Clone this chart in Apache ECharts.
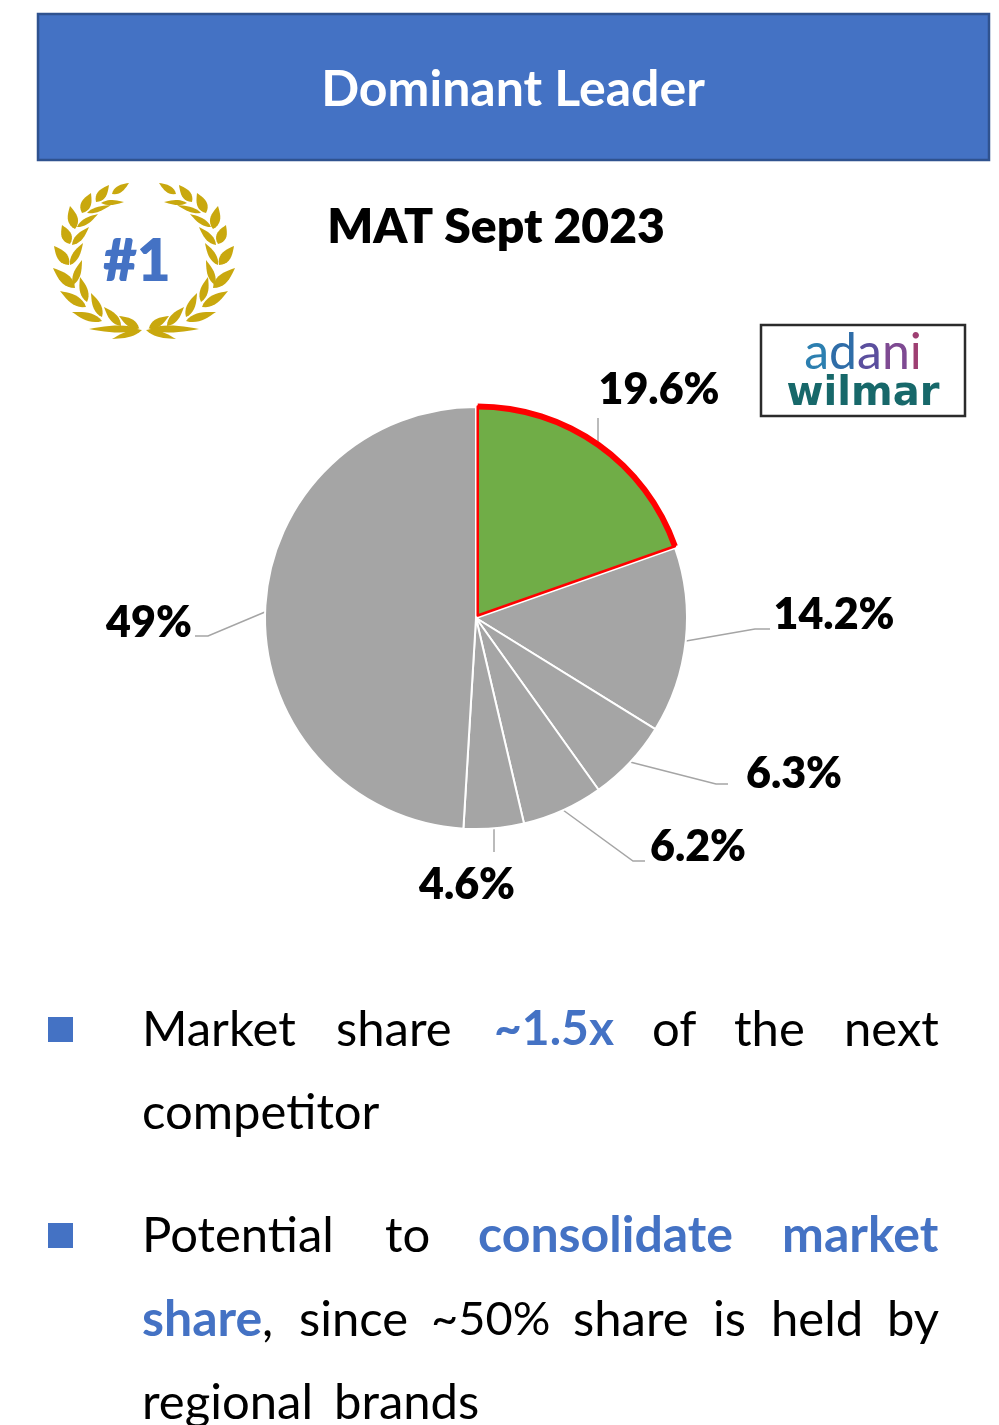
<!DOCTYPE html>
<html>
<head>
<meta charset="utf-8">
<title>Dominant Leader</title>
<style>
  html, body { margin: 0; padding: 0; background: #fff; }
  #chart { width: 999px; height: 1425px; }
</style>
<script src="https://cdn.jsdelivr.net/npm/echarts@6/dist/echarts.min.js"></script>
</head>
<body>
<div id="chart"></div>
<script>
const shareLabels = ['19.6%', '14.2%', '6.3%', '6.2%', '4.6%', '49%']
const shareValues = [19.6, 14.2, 6.3, 6.2, 4.6, 49]

const headerTitle = 'Dominant Leader'
const periodTitle = 'MAT Sept 2023'
const rankText = '#1'

const FONT = 'Lato, "Open Sans", sans-serif'
const BLUE = '#4472C4'
const GREY = '#A5A5A5'

// label centre and leader line for each slice, same order as the values
const labelSpots = [
  { x: 659, y: 390, line: [[598, 447], [598, 432], [598, 418]] },
  { x: 834, y: 615, line: [[686, 641], [755, 629], [770, 629]] },
  { x: 794, y: 774, line: [[630, 762], [716, 784], [728, 784]] },
  { x: 698, y: 847, line: [[563, 810], [633, 861], [645, 861]] },
  { x: 467, y: 885, line: [[494, 829], [494, 840], [494, 852]] },
  { x: 149, y: 623, line: [[265, 612], [208, 636], [195, 636]] }
]

// justified lines, one word at a time
const bulletWords = [
  { t: 'Market', x: 142, y: 1030 },
  { t: 'share', x: 336, y: 1030 },
  { t: '~1.5x', x: 494, y: 1030, hi: true, size: 48 },
  { t: 'of', x: 652, y: 1030 },
  { t: 'the', x: 734, y: 1030 },
  { t: 'next', x: 844, y: 1030 },
  { t: 'competitor', x: 142, y: 1113 },
  { t: 'Potential', x: 142, y: 1236 },
  { t: 'to', x: 385, y: 1236 },
  { t: 'consolidate', x: 478, y: 1236, hi: true },
  { t: 'market', x: 782, y: 1236, hi: true },
  { t: 'share', x: 142, y: 1320, hi: true },
  { t: ',', x: 262, y: 1320 },
  { t: 'since', x: 299, y: 1320 },
  { t: '~50%', x: 431, y: 1320, size: 47 },
  { t: 'share', x: 573, y: 1320 },
  { t: 'is', x: 713, y: 1320 },
  { t: 'held', x: 771, y: 1320 },
  { t: 'by', x: 887, y: 1320 },
  { t: 'regional', x: 142, y: 1403 },
  { t: 'brands', x: 334, y: 1403 }
]

// laurel leaves of the left branch: base x, base y, tip x, tip y, half width
const laurelLeaves = [
  [142, 330, 112, 339, 3], [140, 329, 89, 329, 3.5], [139, 328, 119, 316, 4],
  [121, 326, 104, 307, 4], [102, 321, 72, 312, 4], [102, 317, 91, 293, 4],
  [86, 307, 60, 291, 4.5], [87, 302, 80, 277, 4], [75, 288, 53, 268, 5],
  [73, 285, 82, 260, 3.5], [69, 265, 54, 246, 5], [70, 265, 83, 243, 3.5],
  [70, 244, 62, 225, 5], [72, 245, 89, 227, 3.5], [75, 229, 70, 206, 5],
  [77, 227, 98, 214, 3], [82, 213, 91, 193, 5], [87, 213, 111, 205, 2.5],
  [96, 202, 109, 185, 4.5], [101, 203, 124, 202, 2.5], [112, 194, 129, 183, 3.5]
]
const LAUREL_AXIS = 144

function leafPoints(x0, y0, x1, y1, w) {
  // pointed leaf outline, bulging on either side of the rib
  const dx = x1 - x0
  const dy = y1 - y0
  const len = Math.sqrt(dx * dx + dy * dy)
  const nx = -dy / len
  const ny = dx / len
  const pts = []
  for (let i = 0; i <= 10; i++) {
    const t = i / 10
    const b = w * Math.sin(Math.PI * Math.pow(t, 0.8))
    pts.push([x0 + dx * t + nx * b, y0 + dy * t + ny * b])
  }
  for (let i = 9; i > 0; i--) {
    const t = i / 10
    const b = w * Math.sin(Math.PI * Math.pow(t, 0.8))
    pts.push([x0 + dx * t - nx * b, y0 + dy * t - ny * b])
  }
  return pts
}

const graphics = [
  {
    type: 'rect',
    shape: { x: 38, y: 14, width: 951, height: 146 },
    style: { fill: BLUE, stroke: '#2F528F', lineWidth: 2.5 }
  },
  {
    type: 'text', x: 513, y: 90,
    style: { text: headerTitle, fill: '#fff', font: 'bold 50px ' + FONT, align: 'center', verticalAlign: 'middle' }
  },
  {
    type: 'text', x: 496, y: 228,
    style: { text: periodTitle, fill: '#000', font: '800 48px ' + FONT, align: 'center', verticalAlign: 'middle' }
  },
  {
    type: 'text', x: 137, y: 262,
    style: { text: rankText, fill: BLUE, font: '800 58px ' + FONT, align: 'center', verticalAlign: 'middle' }
  },
  {
    type: 'rect',
    shape: { x: 761, y: 325, width: 204, height: 91 },
    style: { fill: '#fff', stroke: '#2b2b2b', lineWidth: 2.5 }
  },
  {
    type: 'text', x: 863, y: 353,
    style: {
      text: '{a|a}{b|d}{c|a}{d|n}{e|i}',
      font: '50px ' + FONT,
      align: 'center', verticalAlign: 'middle',
      rich: {
        a: { fill: '#2C7FB0', font: '50px ' + FONT },
        b: { fill: '#2F6DA8', font: '50px ' + FONT },
        c: { fill: '#5B4F9E', font: '50px ' + FONT },
        d: { fill: '#7E4A92', font: '50px ' + FONT },
        e: { fill: '#9E3F72', font: '50px ' + FONT }
      }
    }
  },
  {
    type: 'text', x: 863, y: 395,
    style: { text: 'wilmar', fill: '#17686A', font: 'bold 40px "DejaVu Sans", sans-serif', align: 'center', verticalAlign: 'middle' }
  },
  {
    type: 'rect',
    shape: { x: 48, y: 1017, width: 25, height: 25 },
    style: { fill: BLUE }
  },
  {
    type: 'rect',
    shape: { x: 48, y: 1223, width: 25, height: 25 },
    style: { fill: BLUE }
  }
]

laurelLeaves.forEach(l => {
  graphics.push({
    type: 'polygon',
    shape: { points: leafPoints(l[0], l[1], l[2], l[3], l[4]) },
    style: { fill: '#C9A80E' }
  })
  graphics.push({
    type: 'polygon',
    shape: { points: leafPoints(2 * LAUREL_AXIS - l[0], l[1], 2 * LAUREL_AXIS - l[2], l[3], l[4]) },
    style: { fill: '#C9A80E' }
  })
})

bulletWords.forEach(w => {
  graphics.push({
    type: 'text', x: w.x, y: w.y,
    style: {
      text: w.t,
      fill: w.hi ? BLUE : '#000',
      font: (w.hi ? 'bold ' : '') + (w.size || (w.hi ? 50 : 49)) + 'px ' + FONT,
      align: 'left', verticalAlign: 'middle'
    }
  })
})

const chart = echarts.init(document.getElementById('chart'))
const option = {
  animation: false,
  backgroundColor: '#fff',
  graphic: { elements: graphics },
  series: [
    {
      // grey slices, labels and leader lines; the leading slice is drawn by the next series
      type: 'pie',
      center: [476, 618],
      radius: [0, 211],
      startAngle: 90,
      data: shareValues.map((v, i) => ({
        name: shareLabels[i],
        value: v,
        itemStyle: i === 0
          ? { color: 'transparent', borderWidth: 0 }
          : { color: GREY, borderColor: '#fff', borderWidth: 2 }
      })),
      label: {
        show: true,
        formatter: '{b}',
        color: '#000',
        fontFamily: FONT,
        fontWeight: 800,
        fontSize: 43
      },
      labelLine: {
        show: true,
        lineStyle: { color: GREY, width: 1.5 }
      },
      labelLayout: params => {
        const spot = labelSpots[params.dataIndex]
        return { x: spot.x, y: spot.y, align: 'center', verticalAlign: 'middle', labelLinePoints: spot.line }
      }
    },
    {
      // leading slice, pulled slightly out, with its red outline
      type: 'pie',
      center: [476, 618],
      radius: [0, 209],
      startAngle: 90,
      silent: true,
      selectedMode: 'single',
      selectedOffset: 3,
      label: { show: false },
      labelLine: { show: false },
      data: shareValues.map((v, i) => ({
        value: v,
        selected: i === 0,
        itemStyle: i === 0
          ? { color: '#70AD47', borderColor: '#FF0000', borderWidth: 2.5 }
          : { color: 'transparent', borderWidth: 0 }
      }))
    },
    {
      // thick part of the outline, on the arc only
      type: 'pie',
      center: [476, 618],
      radius: [206, 212],
      startAngle: 90,
      silent: true,
      selectedMode: 'single',
      selectedOffset: 3,
      label: { show: false },
      labelLine: { show: false },
      data: shareValues.map((v, i) => ({
        value: v,
        selected: i === 0,
        itemStyle: { color: i === 0 ? '#FF0000' : 'transparent', borderWidth: 0 }
      }))
    }
  ]
}
chart.setOption(option)
</script>
</body>
</html>
